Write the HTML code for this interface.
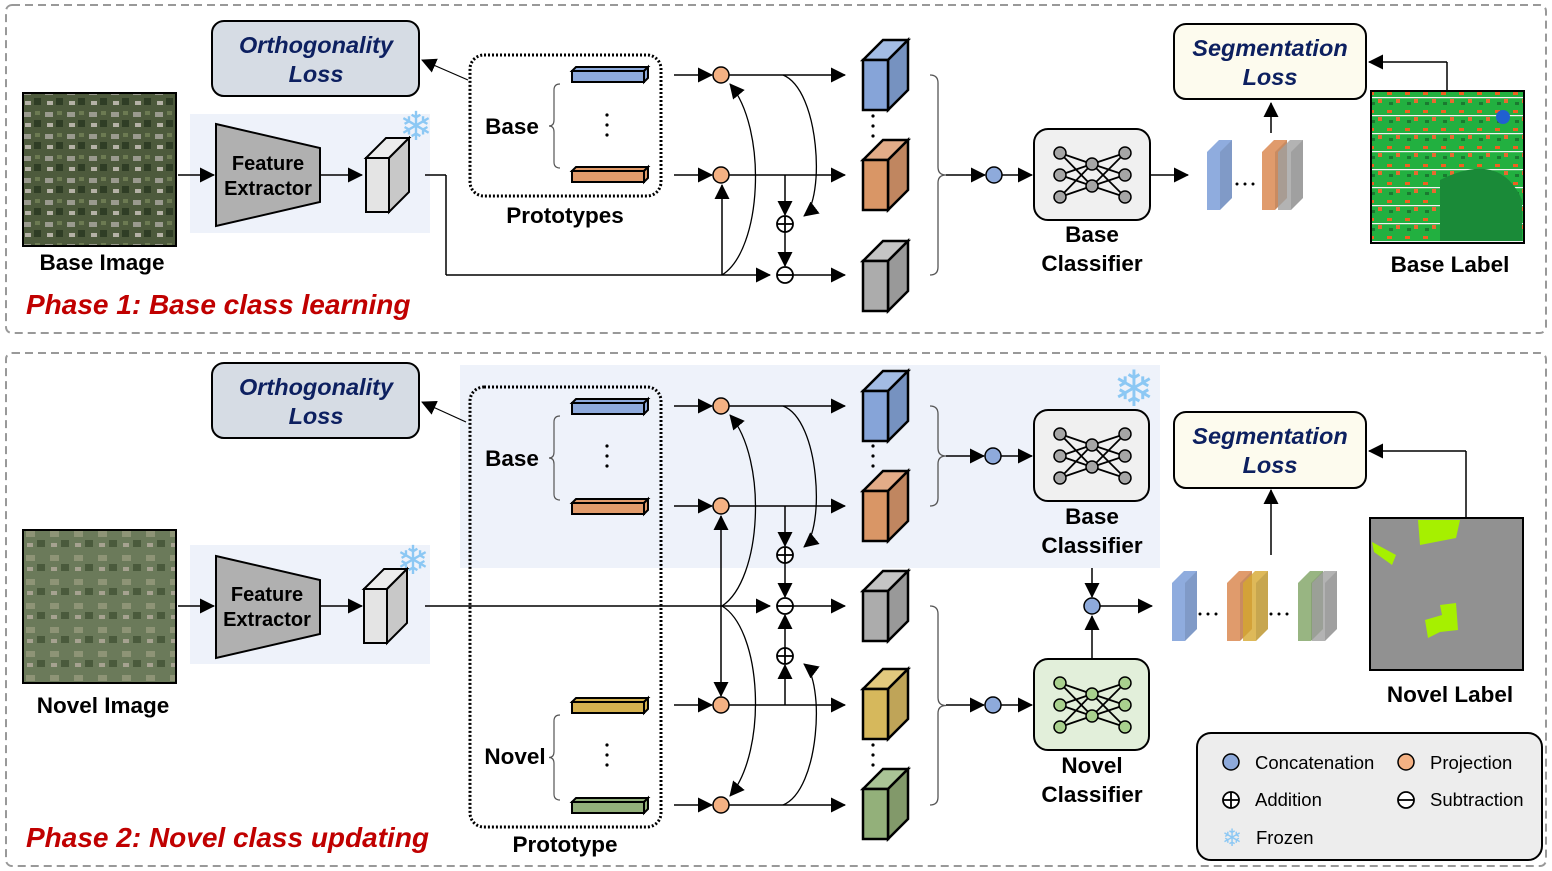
<!DOCTYPE html>
<html><head><meta charset="utf-8"><style>
html,body{margin:0;padding:0;background:#fff;}
svg{display:block;font-family:"Liberation Sans",Arial,sans-serif;}
.b{font-weight:bold;font-size:22.5px;fill:#000;text-anchor:middle;}
.fe{font-weight:bold;font-size:20px;fill:#000;text-anchor:middle;}
.loss{font-weight:bold;font-style:italic;font-size:23.5px;fill:#0d2060;text-anchor:middle;}
.ph{font-weight:bold;font-style:italic;font-size:28px;fill:#c00000;}
.lg{font-size:18.5px;fill:#000;}
.ln{stroke:#000;stroke-width:1.5;fill:none;}
.cv{stroke:#000;stroke-width:1.2;fill:none;}
</style></head><body>
<svg id="s" width="1552" height="871" viewBox="0 0 1552 871" xmlns="http://www.w3.org/2000/svg">
<defs>
<marker id="A" markerWidth="15" markerHeight="15" refX="14" refY="7.5" orient="auto" markerUnits="userSpaceOnUse" viewBox="0 0 15 15"><path d="M0,0 L15,7.5 L0,15 z" fill="#000"/></marker>
<pattern id="aer1" width="22" height="22" patternUnits="userSpaceOnUse">
<rect width="22" height="22" fill="#4d5a3c"/><rect x="1" y="2" width="8" height="5" fill="#9a9a8e"/><rect x="12" y="10" width="7" height="7" fill="#2f3d25"/><rect x="3" y="13" width="6" height="4" fill="#b5b2a6"/><rect x="13" y="1" width="5" height="4" fill="#6c7a52"/></pattern>
<pattern id="aer2" width="24" height="24" patternUnits="userSpaceOnUse">
<rect width="24" height="24" fill="#6b7a5a"/><rect x="2" y="3" width="9" height="6" fill="#8e9476"/><rect x="13" y="12" width="8" height="7" fill="#4a5a3c"/><rect x="3" y="15" width="6" height="4" fill="#a6a290"/></pattern>
<pattern id="lab1" width="18" height="18" patternUnits="userSpaceOnUse">
<rect width="18" height="18" fill="#22b040"/><rect x="1" y="2" width="5" height="3" fill="#f06020"/><rect x="10" y="9" width="4" height="4" fill="#e86a30"/><rect x="0" y="7" width="18" height="1.2" fill="#f4f4f4"/><rect x="3" y="12" width="4" height="3" fill="#1a7a30"/></pattern>
</defs>

<rect x="6" y="5" width="1540" height="328" rx="6" fill="none" stroke="#999" stroke-width="2" stroke-dasharray="8,5"/>
<rect x="6" y="353" width="1540" height="513" rx="6" fill="none" stroke="#999" stroke-width="2" stroke-dasharray="8,5"/>

<rect x="190" y="114" width="240" height="119" fill="#eef2fa"/>
<rect x="190" y="545" width="240" height="119" fill="#eef2fa"/>
<rect x="460" y="365" width="700" height="203" fill="#eef2fa"/>

<rect x="23" y="93" width="153" height="153" fill="url(#aer1)" stroke="#000" stroke-width="2"/>
<rect x="23" y="530" width="153" height="153" fill="url(#aer2)" stroke="#000" stroke-width="2"/>
<text class="b" x="102" y="270">Base Image</text>
<text class="b" x="103" y="713">Novel Image</text>

<rect x="1371" y="91" width="153" height="152" fill="url(#lab1)" stroke="#000" stroke-width="2"/>
<path d="M1440,180 Q1500,150 1522,200 L1522,241 L1440,241z" fill="#1a8a38"/>
<circle cx="1503" cy="117" r="7" fill="#2060d0"/>
<text class="b" x="1450" y="272">Base Label</text>
<rect x="1370" y="518" width="153" height="152" fill="#919191" stroke="#000" stroke-width="2"/>
<polygon points="1418,520 1460,520 1456,538 1420,545" fill="#a6f000"/>
<polygon points="1372,542 1396,555 1392,565 1374,552" fill="#a6f000"/>
<polygon points="1425,620 1442,615 1440,605 1456,603 1458,630 1440,632 1428,638" fill="#a6f000"/>
<text class="b" x="1450" y="702">Novel Label</text>

<polygon points="216,124 320,148 320,202 216,226" fill="#b0b0b0" stroke="#000" stroke-width="2"/>
<text class="fe" x="268" y="170">Feature</text><text class="fe" x="268" y="195">Extractor</text>
<polygon points="216,556 320,580 320,634 216,658" fill="#b0b0b0" stroke="#000" stroke-width="2"/>
<text class="fe" x="267" y="601">Feature</text><text class="fe" x="267" y="626">Extractor</text>
<line class="ln" x1="178" y1="175" x2="214" y2="175" marker-end="url(#A)"/>
<line class="ln" x1="320" y1="175" x2="362" y2="175" marker-end="url(#A)"/>
<line class="ln" x1="178" y1="606" x2="214" y2="606" marker-end="url(#A)"/>
<line class="ln" x1="320" y1="606" x2="362" y2="606" marker-end="url(#A)"/>

<text x="416" y="140" font-size="40" fill="#8cc8f4" text-anchor="middle">❄</text>
<text x="413" y="574" font-size="40" fill="#8cc8f4" text-anchor="middle">❄</text>
<text x="1134" y="406" font-size="50" fill="#8cc8f4" text-anchor="middle">❄</text>

<rect x="212" y="21" width="207" height="75" rx="12" fill="#d6dce4" stroke="#000" stroke-width="2"/>
<text class="loss" x="316" y="53">Orthogonality</text><text class="loss" x="316" y="82">Loss</text>
<rect x="212" y="363" width="207" height="75" rx="12" fill="#d6dce4" stroke="#000" stroke-width="2"/>
<text class="loss" x="316" y="395">Orthogonality</text><text class="loss" x="316" y="424">Loss</text>
<rect x="1174" y="24" width="192" height="75" rx="12" fill="#fdfbee" stroke="#000" stroke-width="2"/>
<text class="loss" x="1270" y="56">Segmentation</text><text class="loss" x="1270" y="85">Loss</text>
<rect x="1174" y="412" width="192" height="76" rx="12" fill="#fdfbee" stroke="#000" stroke-width="2"/>
<text class="loss" x="1270" y="444">Segmentation</text><text class="loss" x="1270" y="473">Loss</text>

<line class="cv" x1="468" y1="80" x2="422" y2="60" marker-end="url(#A)"/>
<line class="cv" x1="466" y1="422" x2="422" y2="402" marker-end="url(#A)"/>

<rect x="470" y="55" width="191" height="141" rx="14" fill="none" stroke="#000" stroke-width="3" stroke-dasharray="2,2"/>
<text class="b" x="512" y="134">Base</text>
<text class="b" x="565" y="223">Prototypes</text>
<rect x="470" y="387" width="191" height="440" rx="14" fill="none" stroke="#000" stroke-width="3" stroke-dasharray="2,2"/>
<text class="b" x="512" y="466">Base</text>
<text class="b" x="515" y="764">Novel</text>
<text class="b" x="565" y="852">Prototype</text>

<rect x="1034" y="129" width="116" height="91" rx="14" fill="#f0f0f0" stroke="#000" stroke-width="2"/>
<text class="b" x="1092" y="242">Base</text><text class="b" x="1092" y="271">Classifier</text>
<rect x="1034" y="410" width="115" height="91" rx="14" fill="#f0f0f0" stroke="#000" stroke-width="2"/>
<text class="b" x="1092" y="524">Base</text><text class="b" x="1092" y="553">Classifier</text>
<rect x="1034" y="659" width="115" height="91" rx="14" fill="#e2efda" stroke="#000" stroke-width="2"/>
<text class="b" x="1092" y="773">Novel</text><text class="b" x="1092" y="802">Classifier</text>

<text class="ph" x="26" y="314">Phase 1: Base class learning</text>
<text class="ph" x="26" y="847">Phase 2: Novel class updating</text>

<rect x="1197" y="733" width="345" height="127" rx="14" fill="#ededed" stroke="#000" stroke-width="2"/>
<circle cx="1231" cy="762" r="8" fill="#8eaadb" stroke="#000" stroke-width="1.5"/>
<text class="lg" x="1255" y="769">Concatenation</text>
<circle cx="1406" cy="762" r="8" fill="#f4b183" stroke="#000" stroke-width="1.5"/>
<text class="lg" x="1430" y="769">Projection</text>
<text class="lg" x="1255" y="806">Addition</text>
<text class="lg" x="1430" y="806">Subtraction</text>
<text x="1232" y="846" font-size="24" fill="#8cc8f4" text-anchor="middle">❄</text>
<text class="lg" x="1256" y="844">Frozen</text>
<g id="dyn"></g>
</svg>
<script>
var g=document.getElementById('dyn'),h='';
function cube(x,y,col,side,top){var w=25,hh=50,d=20;
h+='<polygon points="'+x+','+(y+d)+' '+(x+d)+','+y+' '+(x+w+d)+','+y+' '+(x+w)+','+(y+d)+'" fill="'+top+'" stroke="#000" stroke-width="2.5"/>';
h+='<polygon points="'+(x+w)+','+(y+d)+' '+(x+w+d)+','+y+' '+(x+w+d)+','+(y+hh)+' '+(x+w)+','+(y+hh+d)+'" fill="'+side+'" stroke="#000" stroke-width="2.5"/>';
h+='<rect x="'+x+'" y="'+(y+d)+'" width="'+w+'" height="'+hh+'" fill="'+col+'" stroke="#000" stroke-width="2.5"/>';}
function bar(x,y,col){h+='<polygon points="'+x+','+(y+4)+' '+(x+4)+','+y+' '+(x+76)+','+y+' '+(x+72)+','+(y+4)+'" fill="'+col+'" stroke="#000" stroke-width="2"/>';
h+='<polygon points="'+(x+72)+','+(y+4)+' '+(x+76)+','+y+' '+(x+76)+','+(y+11)+' '+(x+72)+','+(y+15)+'" fill="'+col+'" stroke="#000" stroke-width="2"/>';
h+='<rect x="'+x+'" y="'+(y+4)+'" width="72" height="11" fill="'+col+'" stroke="#000" stroke-width="2"/>';}
function dots(x,y){for(var i=0;i<3;i++)h+='<circle cx="'+x+'" cy="'+(y+i*10)+'" r="1.6" fill="#000"/>';}
function brace(x,y1,y2){var m=(y1+y2)/2;h+='<path d="M'+x+','+y1+' q8,0 8,8 L'+(x+8)+','+(m-8)+' q0,8 8,8 q-8,0 -8,8 L'+(x+8)+','+(y2-8)+' q0,8 -8,8" fill="none" stroke="#555" stroke-width="1.3"/>';}
function lbrace(x,y1,y2){var m=(y1+y2)/2;h+='<path d="M'+x+','+y1+' q-6,0 -6,6 L'+(x-6)+','+(m-6)+' q0,6 -5,6 q5,0 5,6 L'+(x-6)+','+(y2-6)+' q0,6 6,6" fill="none" stroke="#555" stroke-width="1.2"/>';}
function L(x1,y1,x2,y2,m){h+='<line x1="'+x1+'" y1="'+y1+'" x2="'+x2+'" y2="'+y2+'" stroke="#000" stroke-width="1.5"'+(m?' marker-end="url(#A)"':'')+'/>';}
function P(d){h+='<path d="'+d+'" fill="none" stroke="#000" stroke-width="1.3" marker-end="url(#A)"/>';}
function circ(x,y,c){h+='<circle cx="'+x+'" cy="'+y+'" r="8" fill="'+c+'" stroke="#000" stroke-width="1.5"/>';}
function plus(x,y){h+='<circle cx="'+x+'" cy="'+y+'" r="8" fill="#fff" stroke="#000" stroke-width="1.8"/><line x1="'+(x-8)+'" y1="'+y+'" x2="'+(x+8)+'" y2="'+y+'" stroke="#000" stroke-width="1.8"/><line x1="'+x+'" y1="'+(y-8)+'" x2="'+x+'" y2="'+(y+8)+'" stroke="#000" stroke-width="1.8"/>';}
function minus(x,y){h+='<circle cx="'+x+'" cy="'+y+'" r="8" fill="#fff" stroke="#000" stroke-width="1.8"/><line x1="'+(x-8)+'" y1="'+y+'" x2="'+(x+8)+'" y2="'+y+'" stroke="#000" stroke-width="1.8"/>';}
function net(x,y,c){var c1=[[x+26,y+24],[x+26,y+46],[x+26,y+68]],c2=[[x+58,y+35],[x+58,y+57]],c3=[[x+91,y+24],[x+91,y+46],[x+91,y+68]];
c1.forEach(function(a){c2.forEach(function(b){h+='<line x1="'+a[0]+'" y1="'+a[1]+'" x2="'+b[0]+'" y2="'+b[1]+'" stroke="#000" stroke-width="1.8"/>';});});
c3.forEach(function(a){c2.forEach(function(b){h+='<line x1="'+a[0]+'" y1="'+a[1]+'" x2="'+b[0]+'" y2="'+b[1]+'" stroke="#000" stroke-width="1.8"/>';});});
c1.concat(c2,c3).forEach(function(p){h+='<circle cx="'+p[0]+'" cy="'+p[1]+'" r="6" fill="'+c+'" stroke="#000" stroke-width="1.5"/>';});}
function slab(x,y,col,op){h+='<polygon points="'+x+','+(y+12)+' '+(x+12)+','+y+' '+(x+25)+','+y+' '+(x+25)+','+(y+58)+' '+(x+13)+','+(y+70)+' '+x+','+(y+70)+'" fill="'+col+'" opacity="'+(op||0.85)+'"/><polygon points="'+(x+13)+','+(y+12)+' '+(x+25)+','+y+' '+(x+25)+','+(y+58)+' '+(x+13)+','+(y+70)+'" fill="#000" opacity="0.1"/>';}
function hdots(x,y){for(var i=0;i<3;i++)h+='<circle cx="'+(x+i*8)+'" cy="'+y+'" r="1.5" fill="#000"/>';}
function gcube(x,y){var w=23,hh=54,d=20;h+='<polygon points="'+x+','+(y+d)+' '+(x+d)+','+y+' '+(x+w+d)+','+y+' '+(x+w)+','+(y+d)+'" fill="#ececec" stroke="#000" stroke-width="2"/><polygon points="'+(x+w)+','+(y+d)+' '+(x+w+d)+','+y+' '+(x+w+d)+','+(y+hh)+' '+(x+w)+','+(y+hh+d)+'" fill="#c8c8c8" stroke="#000" stroke-width="2"/><rect x="'+x+'" y="'+(y+d)+'" width="'+w+'" height="'+hh+'" fill="#e4e4e4" stroke="#000" stroke-width="2"/>';}
gcube(366,138);gcube(364,569);
bar(572,67,'#8eaadb');bar(572,167,'#e19b6b');dots(607,115);lbrace(560,84,168);
L(425,175,446,175);L(446,175,446,275);L(446,275,770,275,1);
L(674,75,712,75,1);L(674,175,712,175,1);
circ(721,75,'#f4b183');circ(721,175,'#f4b183');
L(729,75,845,75,1);L(729,175,845,175,1);
L(722,275,722,185,1);
P('M722,275 C762,250 768,130 730,84');
P('M783,75 C820,90 825,200 804,216');
L(785,175,785,215,1);plus(785,224);L(785,232,785,266,1);minus(785,275);
L(793,275,845,275,1);
cube(863,40,'#86a4d8','#7692c0','#a3bce4');cube(863,140,'#d99666','#c08660','#e3ac88');cube(863,241,'#acacac','#999','#c4c4c4');
dots(873,116);
brace(930,75,275);L(946,175,985,175,1);circ(994,175,'#8eaadb');L(1002,175,1032,175,1);
net(1034,129,'#a6a6a6');
L(1150,175,1188,175,1);
slab(1207,140,'#7b9ed8');hdots(1237,184);slab(1262,140,'#da8a52');slab(1278,140,'#a0a0a0',0.8);
L(1271,133,1271,103,1);
L(1447,91,1447,62);L(1447,62,1369,62,1);
bar(572,399,'#8eaadb');bar(572,499,'#e19b6b');dots(607,446);lbrace(560,416,500);
bar(572,698,'#d6b24f');bar(572,798,'#93b07a');dots(607,745);lbrace(560,715,800);
L(425,606,770,606,1);
[406,506,705,805].forEach(function(y){L(674,y,712,y,1);circ(721,y,'#f4b183');L(729,y,845,y,1);});
L(721,606,721,516,1);L(721,606,721,696,1);
P('M722,606 C762,580 768,460 730,415');
P('M722,606 C762,630 768,750 730,796');
P('M783,406 C820,420 825,530 804,547');
P('M783,805 C820,790 825,680 804,664');
L(785,506,785,546,1);plus(785,555);L(785,563,785,597,1);minus(785,606);
L(785,705,785,665,1);plus(785,656);L(785,648,785,615,1);
L(793,606,845,606,1);
cube(863,371,'#86a4d8','#7692c0','#a3bce4');cube(863,471,'#d99666','#c08660','#e3ac88');cube(863,571,'#acacac','#999','#c4c4c4');
cube(863,669,'#d6b85c','#bfa458','#e2c97e');cube(863,769,'#93b07a','#82996a','#aac496');
dots(873,446);dots(873,745);
brace(930,406,506);L(946,456,984,456,1);circ(993,456,'#8eaadb');L(1001,456,1032,456,1);
brace(930,606,805);L(946,705,984,705,1);circ(993,705,'#8eaadb');L(1001,705,1032,705,1);
net(1034,410,'#a6a6a6');net(1034,659,'#a9d18e');
L(1092,568,1092,597,1);L(1092,659,1092,616,1);circ(1092,606,'#8eaadb');L(1100,606,1152,606,1);
slab(1172,571,'#7b9ed8');hdots(1200,614);slab(1227,571,'#da8a52');slab(1243,571,'#d6a830',0.8);hdots(1271,614);slab(1298,571,'#86a86c');slab(1312,571,'#a0a0a0',0.8);
L(1271,555,1271,490,1);
L(1466,518,1466,451);L(1466,451,1369,451,1);
plus(1231,800);minus(1406,800);
g.innerHTML=h;
</script>
</body></html>
